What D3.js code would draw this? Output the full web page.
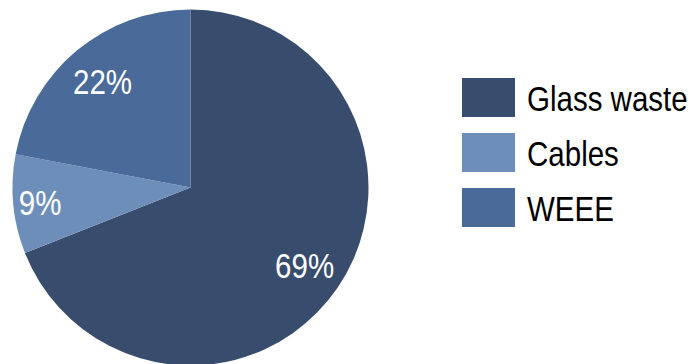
<!DOCTYPE html>
<html>
<head>
<meta charset="utf-8">
<script src="https://cdn.jsdelivr.net/npm/d3@7"></script>
<style>
  html, body { margin: 0; padding: 0; background: #fff; }
  svg { display: block; }
</style>
</head>
<body>
<svg id="chart" width="695" height="364"></svg>
<script>
// Share of waste streams (%)
const categories = ["Glass waste", "Cables", "WEEE"];
const values = [69, 9, 22];
const colors = ["#384d6d", "#6e8eba", "#4a6a99"];

const svg = d3.select("#chart");
const cx = 190.5, cy = 187.5, radius = 178;
const fontFamily = "'Liberation Sans', Arial, sans-serif";
const narrow = 0.82; // horizontal squeeze for a condensed look

const data = categories.map((c, i) => ({ name: c, value: values[i], color: colors[i] }));

const pie = d3.pie().value(d => d.value).sort(null).startAngle(0).endAngle(2 * Math.PI);
const arcs = pie(data);
const arc = d3.arc().innerRadius(0).outerRadius(radius);

const g = svg.append("g").attr("transform", `translate(${cx},${cy})`);

g.selectAll("path.slice")
  .data(arcs)
  .join("path")
  .attr("class", "slice")
  .attr("d", arc)
  .attr("fill", d => d.data.color);

// Percentage labels; the narrow slice gets its label pushed nearer the rim
g.selectAll("text.pct")
  .data(arcs)
  .join("text")
  .attr("class", "pct")
  .attr("transform", d => {
    const r = d.data.value < 10 ? 151 : 138;
    const a = (d.startAngle + d.endAngle) / 2;
    return `translate(${Math.sin(a) * r},${-Math.cos(a) * r}) scale(${narrow},1)`;
  })
  .attr("text-anchor", "middle")
  .attr("dy", "0.36em")
  .attr("fill", "#fff")
  .style("font-family", fontFamily)
  .style("font-size", "36px")
  .text(d => d.data.value + "%");

// Legend
const legend = svg.append("g").attr("transform", "translate(462,78)");
const item = legend.selectAll("g.item")
  .data(data)
  .join("g")
  .attr("class", "item")
  .attr("transform", (d, i) => `translate(0,${i * 55})`);

item.append("rect")
  .attr("width", 53)
  .attr("height", 39)
  .attr("fill", d => d.color);

item.append("text")
  .attr("transform", `translate(65,20) scale(${narrow},1)`)
  .attr("dy", "0.36em")
  .attr("fill", "#000")
  .style("font-family", fontFamily)
  .style("font-size", "36px")
  .text(d => d.name);
</script>
</body>
</html>
